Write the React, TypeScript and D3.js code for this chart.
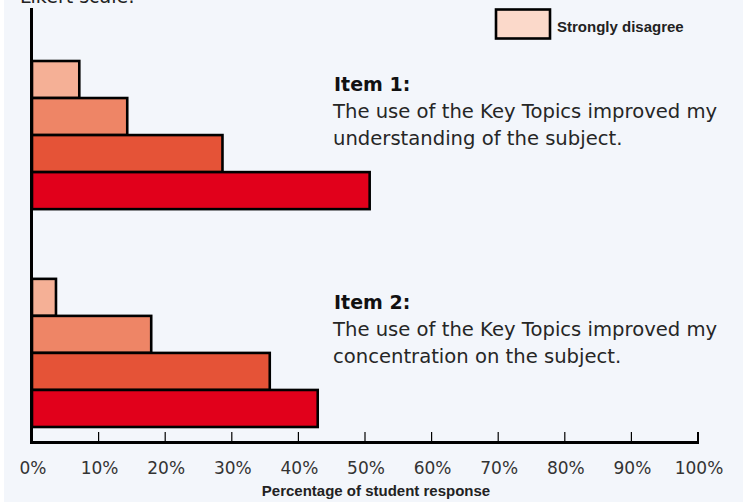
import React from 'react';
import * as d3 from 'd3';

// Likert answers, from lightest to darkest bar
const levels = ['Strongly disagree', 'Disagree', 'Agree', 'Strongly agree'];
const items = ['Item 1', 'Item 2'];
const item1Values = [7.1, 14.3, 28.6, 50.7];
const item2Values = [3.6, 17.9, 35.7, 42.9];
const itemText = [
  ['The use of the Key Topics improved my', 'understanding of the subject.'],
  ['The use of the Key Topics improved my', 'concentration on the subject.'],
];
const tickValues = [0, 10, 20, 30, 40, 50, 60, 70, 80, 90, 100];
const legendLevels = ['Strongly disagree'];

const App = () => {
  const width = 743;
  const height = 502;
  const colors = ['#F5B096', '#EE8566', '#E55337', '#E1001B'];
  const legendFill = '#FBD9CA';
  const axisY = 442.5;

  const x = d3.scaleLinear().domain([0, 100]).range([32, 698]);
  const outer = d3.scaleBand().domain(items).range([61, 427]).paddingInner(0.32);
  const inner = d3.scaleBand().domain(levels).range([0, outer.bandwidth()]);
  const seriesByItem = [item1Values, item2Values];

  const sans = 'DejaVu Sans, Verdana, sans-serif';
  const arial = 'Liberation Sans, Arial, sans-serif';

  return (
    <svg
      width={width}
      height={height}
      viewBox={`0 0 ${width} ${height}`}
      style={{ position: 'absolute', left: 0, top: 0 }}
    >
      <rect x={0} y={0} width={width} height={height} fill="#ffffff" />
      <rect x={4} y={0} width={width - 4} height={height} fill="#F3F6FB" />

      {/* heading sits mostly above the picture, as in the source */}
      <text x={20} y={3} fontFamily={sans} fontSize={19} fill="#222">Likert scale:</text>

      {items.map((item, i) => (
        <g key={item} transform={`translate(0, ${outer(item)})`}>
          {seriesByItem[i].map((v, j) => (
            <rect
              key={levels[j]}
              x={x(0)}
              y={inner(levels[j])}
              width={x(v) - x(0)}
              height={inner.bandwidth()}
              fill={colors[j]}
              stroke="#000"
              strokeWidth={2.6}
            />
          ))}
          <text x={334} y={30} fontFamily={sans} fontSize={19} fontWeight="bold" fill="#111">
            {item}:
          </text>
          {itemText[i].map((line, k) => (
            <text key={k} x={333} y={57 + k * 27} fontFamily={sans} fontSize={19.6} fill="#262626">
              {line}
            </text>
          ))}
        </g>
      ))}

      {/* axes */}
      <line x1={31.5} x2={31.5} y1={8} y2={444} stroke="#000" strokeWidth={3} />
      <line x1={30} x2={699} y1={axisY} y2={axisY} stroke="#000" strokeWidth={3} />
      {tickValues.filter(t => t > 0).map(t => (
        <line
          key={t}
          x1={x(t)}
          x2={x(t)}
          y1={432}
          y2={axisY}
          stroke="#000"
          strokeWidth={t === 100 ? 2 : 1.2}
        />
      ))}
      {tickValues.map(t => (
        <text
          key={t}
          x={x(t) + 1}
          y={474}
          textAnchor="middle"
          fontFamily={sans}
          fontSize={17}
          fill="#333"
        >
          {t}%
        </text>
      ))}
      <text
        x={x(50) + 11}
        y={496}
        textAnchor="middle"
        fontFamily={arial}
        fontSize={15}
        fontWeight="bold"
        fill="#222"
      >
        Percentage of student response
      </text>

      {/* legend */}
      {legendLevels.map((l, i) => (
        <g key={l} transform={`translate(496, ${9.5 + i * 34})`}>
          <rect x={0} y={0} width={54} height={29} fill={legendFill} stroke="#000" strokeWidth={2.6} />
          <text x={61} y={22.5} fontFamily={arial} fontSize={15} fontWeight="bold" fill="#222">
            {l}
          </text>
        </g>
      ))}
    </svg>
  );
};

export default App;
